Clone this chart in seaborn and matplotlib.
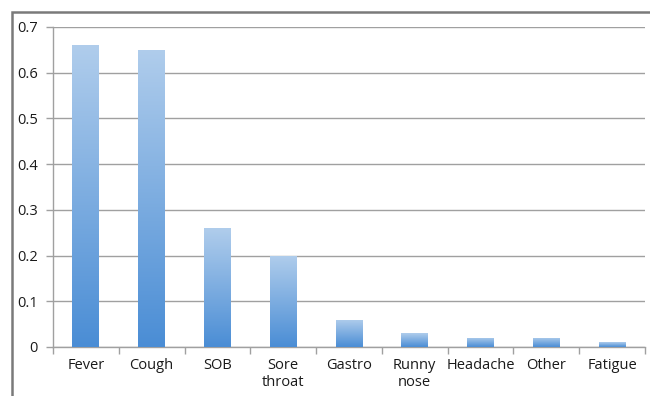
import numpy as np
import matplotlib
matplotlib.use("Agg")
import matplotlib.pyplot as plt
from matplotlib.patches import Rectangle
from matplotlib.colors import LinearSegmentedColormap
import seaborn as sns
import pandas as pd

symptoms = ["Fever", "Cough", "SOB", "Sore\nthroat", "Gastro", "Runny\nnose",
            "Headache", "Other", "Fatigue"]
proportions = [0.66, 0.65, 0.26, 0.20, 0.06, 0.03, 0.02, 0.02, 0.01]
yticks = [0, 0.1, 0.2, 0.3, 0.4, 0.5, 0.6, 0.7]
ytick_labels = ["0", "0.1", "0.2", "0.3", "0.4", "0.5", "0.6", "0.7"]

df = pd.DataFrame({"symptom": symptoms, "proportion": proportions})

sns.set_style("white")
plt.rcParams["font.family"] = ["Open Sans", "DejaVu Sans"]

fig = plt.figure(figsize=(6.5, 3.96), dpi=100)
ax = fig.add_axes([53 / 650, 1 - 347 / 396, 592 / 650, 320 / 396])

sns.barplot(data=df, x="symptom", y="proportion", ax=ax, width=0.41,
            color="#7aaee0", saturation=1, errorbar=None, zorder=3)

# vertical gradient fill inside each bar
cmap = LinearSegmentedColormap.from_list("bar", ["#4a8dd5", "#b0cdec"])
grad = np.linspace(0, 1, 256).reshape(-1, 1)
for patch in ax.patches:
    x0, y0 = patch.get_x(), patch.get_y()
    w, h = patch.get_width(), patch.get_height()
    im = ax.imshow(grad, cmap=cmap, origin="lower", aspect="auto",
                   extent=(x0, x0 + w, y0, y0 + h), zorder=3,
                   interpolation="bicubic")
    im.set_clip_path(patch)
    patch.set_facecolor("none")
    patch.set_edgecolor("none")

ax.set_xlim(-0.5, len(symptoms) - 0.5)
ax.set_ylim(0, 0.7)
ax.set_yticks(yticks)
ax.set_yticklabels(ytick_labels)
ax.yaxis.grid(True, color="#a0a0a0", linewidth=1.0, zorder=0)
ax.set_axisbelow(True)

ax.set_xticks(np.arange(len(symptoms)))
ax.set_xticklabels(symptoms, linespacing=1.2)
ax.set_xticks(np.arange(-0.5, len(symptoms), 1), minor=True)
ax.tick_params(axis="x", which="major", length=0, pad=8, labelsize=10.5,
               colors="#1a1a1a")
ax.tick_params(axis="x", which="minor", length=5, width=1, color="#a0a0a0",
               direction="out", bottom=True)
ax.tick_params(axis="y", length=5, width=1, color="#a0a0a0", direction="out",
               left=True, pad=6, labelsize=10.5, labelcolor="#1a1a1a")
for lbl in ax.get_xticklabels():
    lbl.set_verticalalignment("top")

ax.set_xlabel("")
ax.set_ylabel("")
for side in ["top", "right"]:
    ax.spines[side].set_visible(False)
for side in ["left", "bottom"]:
    ax.spines[side].set_color("#a0a0a0")
    ax.spines[side].set_linewidth(1.0)

# outer chart frame
frame = Rectangle((12 / 650, -0.1), 1.2, 1 - 12 / 396 + 0.1,
                  transform=fig.transFigure, fill=False,
                  edgecolor="#7a7a7a", linewidth=1.8, zorder=10)
fig.patches.append(frame)

fig.savefig("out.png", dpi=100)
